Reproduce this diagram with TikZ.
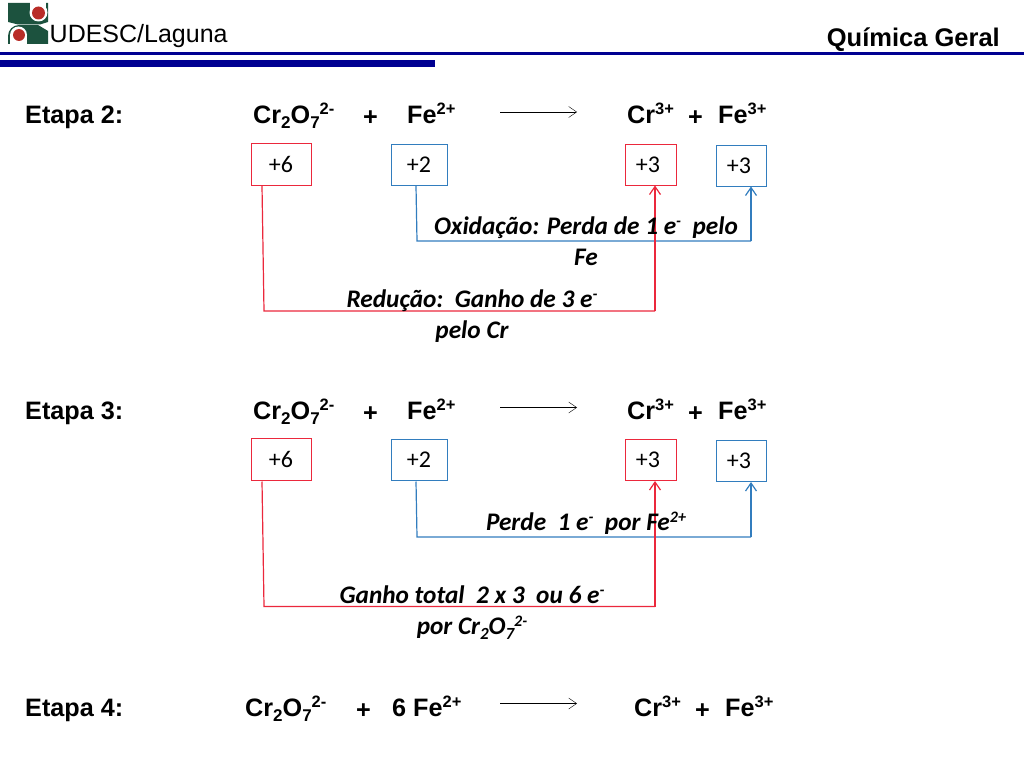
\documentclass[tikz,border=0pt]{standalone}
\usepackage{fontspec}
\setmainfont{Liberation Sans}
\newfontfamily\carlito{Carlito}
\definecolor{udescgreen}{RGB}{28, 82, 62}
\definecolor{udescred}{RGB}{185, 45, 40}
\definecolor{barblue}{RGB}{0, 0, 145}
\definecolor{boxred}{RGB}{235, 40, 60}
\definecolor{boxblue}{RGB}{50, 125, 190}
\usetikzlibrary{arrows.meta, calc}
\newcommand{\sups}[1]{\raisebox{0.33em}{\fontsize{16.5}{16.5}\selectfont #1}}
\newcommand{\subs}[1]{\raisebox{-0.22em}{\fontsize{17}{17}\selectfont #1}}
\newcommand{\isups}[1]{\raisebox{0.3em}{\fontsize{16}{16}\selectfont #1}}
\newcommand{\isubs}[1]{\raisebox{-0.22em}{\fontsize{17}{17}\selectfont #1}}
\tikzset{
  head/.style={font=\fontsize{25.2}{30}\selectfont\bfseries, inner sep=0pt, anchor=base west},
  redbox/.style={draw=boxred, line width=1pt, fill=white, inner sep=0pt, font=\carlito\fontsize{24}{28}\selectfont},
  bluebox/.style={draw=boxblue, line width=1pt, fill=white, inner sep=0pt, font=\carlito\fontsize{24}{28}\selectfont},
  note/.style={font=\carlito\fontsize{25.3}{31}\selectfont\bfseries\itshape, inner sep=0pt, align=center, anchor=base},
  redline/.style={draw=boxred, line width=1.2pt},
  blueline/.style={draw=boxblue, line width=1.2pt},
  tip/.style={-{Straight Barb[length=8pt, width=11pt]}}
}
\begin{document}
\begin{tikzpicture}[x=1pt, y=-1pt]
  \useasboundingbox (0,0) rectangle (1024,768);
  % header
  \fill[udescgreen] (8,3) -- (48,3) -- (48,22) -- (40,24.5) -- (18,24.5) -- (8,22) -- cycle;
  \fill[white] (30,2) rectangle (46,12);
  \fill[white] (38.5,12.5) circle (9);
  \fill[udescred] (38.5,13) circle (6.5);
  \fill[udescgreen] (8,44) -- (8,36) .. controls (8,30) and (13,25) .. (19,25) -- (38,25) -- (48,31) -- (48,44) -- cycle;
  \fill[white] (10,35) rectangle (27,45);
  \fill[white] (18.5,35) circle (8.5);
  \fill[udescred] (19,35) circle (6);
  \node[font=\fontsize{25}{30}\selectfont, inner sep=0pt, anchor=base west] (logotext) at (49.5,43) {UDESC/Laguna};
  \node[font=\fontsize{25.5}{30}\selectfont\bfseries, inner sep=0pt, anchor=base east] (course) at (1000,46) {Química Geral};
  \fill[barblue] (0,52.5) rectangle (1024,55);
  \fill[barblue] (0,60) rectangle (435,67);
  % etapa 2
  \node[head] (title2) at (25,123) {Etapa 2:};
  \node[head] (cr2) at (253,123) {Cr\subs{2}O\subs{7}\sups{2-}};
  \node[head] (plus2a) at (363,125) {+};
  \node[head] (fe2) at (407,123) {Fe\sups{2+}};
  \node[head] (crp2) at (627,123) {Cr\sups{3+}};
  \node[head] (plus2b) at (688,125) {+};
  \node[head] (fep2) at (718,123) {Fe\sups{3+}};
  \coordinate (arrow2a) at (500,112);
  \coordinate (arrow2b) at (577,112);
  \draw[tip] (arrow2a) -- (arrow2b);
  \node[redbox, minimum width=60pt, minimum height=42pt] (ox6a) at (281,164) {+6};
  \node[bluebox, minimum width=56pt, minimum height=41pt] (ox2a) at (419,164.5) {+2};
  \node[redbox, minimum width=51pt, minimum height=41pt] (ox3a) at (651,164.5) {+3\kern6pt};
  \node[bluebox, minimum width=50pt, minimum height=41pt] (ox3b) at (741,165.5) {+3\kern4pt};
  \coordinate (s2a) at (416,186);
  \coordinate (b2a) at (417,241);
  \coordinate (b2b) at (751,241);
  \coordinate (s2b) at (262,186);
  \coordinate (r2a) at (264,311);
  \coordinate (r2b) at (655,311);
  \draw[blueline] (s2a) -- (b2a) -- (b2b);
  \draw[blueline, tip] (b2b) -- (ox3b.south -| b2b);
  \draw[redline] (s2b) -- (r2a) -- (r2b);
  \draw[redline, tip] (r2b) -- (ox3a.south -| r2b);
  \node[note] (noteox) at (586,265.5) {Oxidação: Perda de 1 e\isups{-}\ \ pelo\\Fe};
  \node[note] (notered) at (472,338.5) {Redução:\ \ Ganho de 3 e\isups{-}\\pelo Cr};
  % etapa 3
  \node[head] (title3) at (25,419) {Etapa 3:};
  \node[head] (cr3) at (253,419) {Cr\subs{2}O\subs{7}\sups{2-}};
  \node[head] (plus3a) at (363,421) {+};
  \node[head] (fe3) at (407,419) {Fe\sups{2+}};
  \node[head] (crp3) at (627,419) {Cr\sups{3+}};
  \node[head] (plus3b) at (688,421) {+};
  \node[head] (fep3) at (718,419) {Fe\sups{3+}};
  \coordinate (arrow3a) at (500,407.5);
  \coordinate (arrow3b) at (577,407.5);
  \draw[tip] (arrow3a) -- (arrow3b);
  \node[redbox, minimum width=60pt, minimum height=42pt] (ox6c) at (281,459.5) {+6};
  \node[bluebox, minimum width=56pt, minimum height=41pt] (ox2c) at (419,460) {+2};
  \node[redbox, minimum width=51pt, minimum height=41pt] (ox3c) at (651,460) {+3\kern6pt};
  \node[bluebox, minimum width=50pt, minimum height=41pt] (ox3d) at (741,461) {+3\kern4pt};
  \coordinate (s3a) at (416,481.5);
  \coordinate (b3a) at (417,537);
  \coordinate (b3b) at (751,537);
  \coordinate (s3b) at (262,481.5);
  \coordinate (r3a) at (264,606.5);
  \coordinate (r3b) at (655,606.5);
  \draw[blueline] (s3a) -- (b3a) -- (b3b);
  \draw[blueline, tip] (b3b) -- (ox3d.south -| b3b);
  \draw[redline] (s3b) -- (r3a) -- (r3b);
  \draw[redline, tip] (r3b) -- (ox3c.south -| r3b);
  \node[note] (notelose) at (586,530) {Perde\ \ 1 e\isups{-}\ \ por Fe\isups{2+}};
  \node[note] (notegain) at (472,634) {Ganho total\ \ 2 x 3\ \ ou 6 e\isups{-}\\por Cr\isubs{2}O\isubs{7}\isups{2-}};
  % etapa 4
  \node[head] (title4) at (25,716) {Etapa 4:};
  \node[head] (cr4) at (245,716) {Cr\subs{2}O\subs{7}\sups{2-}};
  \node[head] (plus4a) at (356,718) {+};
  \node[head] (fe4) at (392,716) {6 Fe\sups{2+}};
  \node[head] (crp4) at (634,716) {Cr\sups{3+}};
  \node[head] (plus4b) at (695,718) {+};
  \node[head] (fep4) at (725,716) {Fe\sups{3+}};
  \coordinate (arrow4a) at (500,703.5);
  \coordinate (arrow4b) at (577,703.5);
  \draw[tip] (arrow4a) -- (arrow4b);
\end{tikzpicture}
\end{document}
